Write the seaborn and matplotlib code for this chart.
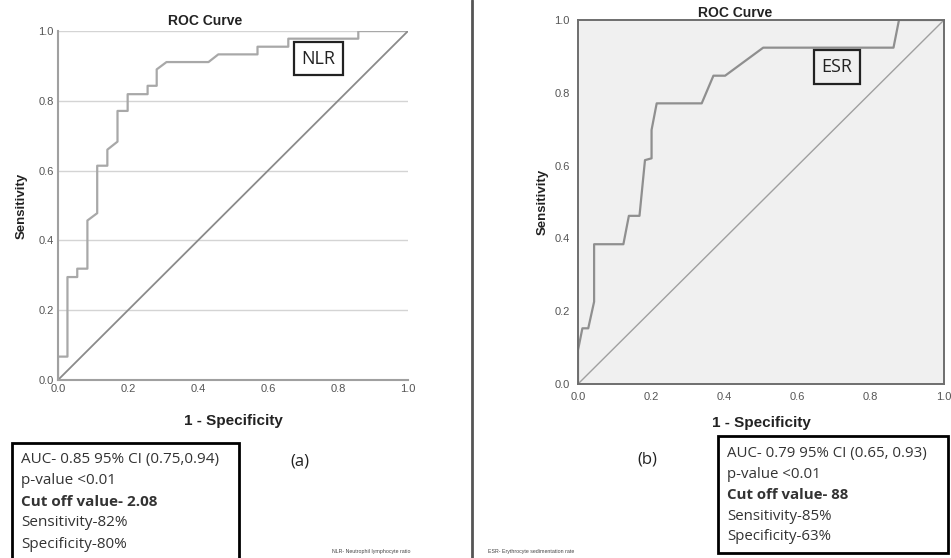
import numpy as np
import pandas as pd
import seaborn as sns
import matplotlib.pyplot as plt
from matplotlib.patches import Rectangle

# ROC points
nlr_fpr = [0.0, 0.0, 0.027, 0.027, 0.055, 0.055, 0.084, 0.084, 0.112, 0.112, 0.141, 0.141,
           0.17, 0.17, 0.199, 0.199, 0.256, 0.256, 0.282, 0.282, 0.31, 0.43, 0.458,
           0.57, 0.57, 0.658, 0.658, 0.858, 0.858, 1.0]
nlr_tpr = [0.0, 0.067, 0.067, 0.295, 0.295, 0.319, 0.319, 0.457, 0.478, 0.614, 0.614, 0.66,
           0.683, 0.771, 0.771, 0.819, 0.819, 0.843, 0.843, 0.89, 0.911, 0.911, 0.933,
           0.933, 0.955, 0.955, 0.978, 0.978, 1.0, 1.0]

esr_fpr = [0.0, 0.0, 0.012, 0.028, 0.044, 0.044, 0.124, 0.139, 0.168, 0.183, 0.201, 0.201,
           0.215, 0.338, 0.37, 0.402, 0.506, 0.862, 0.877, 1.0]
esr_tpr = [0.0, 0.093, 0.153, 0.153, 0.226, 0.384, 0.384, 0.462, 0.462, 0.615, 0.62, 0.698,
           0.771, 0.771, 0.847, 0.847, 0.924, 0.924, 1.0, 1.0]

ref_line = [0.0, 1.0]
ticks = [0.0, 0.2, 0.4, 0.6, 0.8, 1.0]
tick_labels = ["0.0", "0.2", "0.4", "0.6", "0.8", "1.0"]

nlr_stats = ["AUC- 0.85 95% CI (0.75,0.94)", "p-value <0.01", "Cut off value- 2.08",
             "Sensitivity-82%", "Specificity-80%"]
esr_stats = ["AUC- 0.79 95% CI (0.65, 0.93)", "p-value <0.01", "Cut off value- 88",
             "Sensitivity-85%", "Specificity-63%"]

sns.set_style("white")
plt.rcParams["font.family"] = ["Liberation Sans", "DejaVu Sans"]

fig = plt.figure(figsize=(9.51, 5.58), dpi=100)
ax1 = fig.add_axes([58 / 951, 1 - 380 / 558, 350 / 951, 349 / 558])
ax2 = fig.add_axes([578 / 951, 1 - 384 / 558, 366 / 951, 364 / 558])

nlr_df = pd.DataFrame({"fpr": nlr_fpr, "tpr": nlr_tpr})
esr_df = pd.DataFrame({"fpr": esr_fpr, "tpr": esr_tpr})

# left panel (a) - white background with horizontal grid
for y in ticks[1:]:
    ax1.axhline(y, color="#d4d4d4", lw=1, zorder=0)
sns.lineplot(data=nlr_df, x="fpr", y="tpr", sort=False, estimator=None, ax=ax1,
             color="#a8a8a8", lw=1.6)
ax1.plot(ref_line, ref_line, color="#8a8a8a", lw=1.3)
ax1.set_xlim(0, 1)
ax1.set_ylim(0, 1)
for s in ["top", "right"]:
    ax1.spines[s].set_visible(False)
for s in ["left", "bottom"]:
    ax1.spines[s].set_color("#a0a0a0")
    ax1.spines[s].set_linewidth(1.5)
ax1.tick_params(length=0, labelsize=8, labelcolor="#555555", pad=3)
ax1.text(0.695, 0.921, "NLR", fontsize=13, ha="left", va="center", color="#222222",
         family=["Open Sans", "DejaVu Sans"],
         bbox=dict(boxstyle="square,pad=0.42", fc="white", ec="#222222", lw=1.6))
ax1.set_title("ROC Curve", fontsize=10, fontweight="bold", x=0.42, pad=4, color="#222222")

# right panel (b) - grey background, full frame
ax2.set_facecolor("#f0f0f0")
sns.lineplot(data=esr_df, x="fpr", y="tpr", sort=False, estimator=None, ax=ax2,
             color="#8f8f8f", lw=1.6)
ax2.plot(ref_line, ref_line, color="#a0a0a0", lw=1.0)
ax2.set_xlim(0, 1)
ax2.set_ylim(0, 1)
for s in ax2.spines.values():
    s.set_color("#6e6e6e")
    s.set_linewidth(1.4)
ax2.tick_params(length=4, width=1.2, color="#6e6e6e", direction="out",
                labelsize=8, labelcolor="#555555", pad=2)
ax2.text(0.665, 0.871, "ESR", fontsize=13, ha="left", va="center", color="#222222",
         family=["Open Sans", "DejaVu Sans"],
         bbox=dict(boxstyle="square,pad=0.42", fc="#f0f0f0", ec="#222222", lw=1.6))
ax2.set_title("ROC Curve", fontsize=10, fontweight="bold", x=0.43, pad=2, color="#222222")

for ax, lp_x, lp_y in ((ax1, 14, 8), (ax2, 10, 4)):
    ax.set_xticks(ticks)
    ax.set_xticklabels(tick_labels)
    ax.set_yticks(ticks)
    ax.set_yticklabels(tick_labels)
    ax.set_xlabel("1 - Specificity", fontsize=11, fontweight="bold", labelpad=lp_x, color="#222222")
    ax.set_ylabel("Sensitivity", fontsize=9.5, fontweight="bold", labelpad=lp_y, color="#222222")

# divider between panels
fig.add_artist(plt.Line2D([472 / 951, 472 / 951], [0, 1], transform=fig.transFigure,
                          color="#555555", lw=2))

# stats boxes
def stats_box(x0, y0, x1, y1, lines, size):
    fig.add_artist(Rectangle((x0 / 951, 1 - y1 / 558), (x1 - x0) / 951, (y1 - y0) / 558,
                             transform=fig.transFigure, fill=False, ec="black", lw=2,
                             clip_on=False))
    for i, t in enumerate(lines):
        fig.text((x0 + 9) / 951, 1 - (y0 + 17 + i * 21) / 558, t, fontsize=size,
                 va="center", ha="left", color="#333333",
                 fontweight="bold" if t.startswith("Cut") else "normal",
                 family=["Open Sans", "DejaVu Sans"])

stats_box(12, 443, 239, 570, nlr_stats, 11)
stats_box(718, 436, 948, 553, esr_stats, 10.8)

fig.text(300 / 951, 1 - 462 / 558, "(a)", fontsize=12, ha="center", va="center",
         color="#222222", family=["Open Sans", "DejaVu Sans"])
fig.text(647 / 951, 1 - 460 / 558, "(b)", fontsize=12, ha="center", va="center",
         color="#222222", family=["Open Sans", "DejaVu Sans"])

fig.text(410 / 951, 1 - 552 / 558, "NLR- Neutrophil lymphocyte ratio", fontsize=3.8,
         ha="right", va="center", color="#444444")
fig.text(488 / 951, 1 - 552 / 558, "ESR- Erythrocyte sedimentation rate", fontsize=3.8,
         ha="left", va="center", color="#444444")

fig.savefig("out.png", dpi=100)
